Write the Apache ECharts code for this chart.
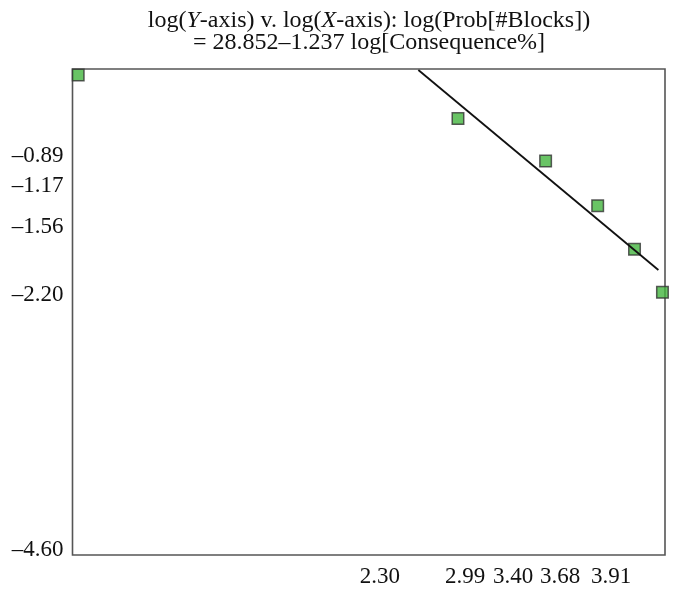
<!DOCTYPE html>
<html>
<head>
<meta charset="utf-8">
<script src="https://cdn.jsdelivr.net/npm/echarts@6/dist/echarts.min.js"></script>
<style>html,body{margin:0;padding:0;background:#fff}#c{width:677px;height:596px}</style>
</head>
<body>
<div id="c"></div>
<script>
// Data points: log(Consequence%) vs log(Prob)
var pointX = [-0.69, 2.30, 2.99, 3.40, 3.69, 3.91];
var pointY = [-0.13, -0.54, -0.94, -1.36, -1.77, -2.175];
// fitted line endpoints (as drawn in reference)
var fitX = [1.988, 3.878];
var fitY = [-0.082, -1.965];
// tick labels
var xTickText = ['2.30', '2.99', '3.40', '3.68', '3.91'];
var xTickAt = [1.686, 2.356, 2.734, 3.104, 3.505];
var yTickVals = [-0.89, -1.17, -1.56, -2.20, -4.60];

var chart = echarts.init(document.getElementById('c'), null, {renderer: 'canvas'});
var font = 'Liberation Serif';
var scatterData = pointX.map(function (x, i) { return [x, pointY[i]]; });
var lineData = fitX.map(function (x, i) { return [x, fitY[i]]; });

chart.setOption({
  animation: false,
  backgroundColor: '#fff',
  title: {
    text: 'log({i|Y}-axis) v. log({i|X}-axis): log(Prob[#Blocks])\n= 28.852–1.237 log[Consequence%]',
    left: 364,
    textAlign: 'center',
    top: 5,
    textStyle: {
      fontFamily: font, fontSize: 24, fontWeight: 'normal', color: '#111', lineHeight: 22,
      rich: { i: { fontFamily: font, fontSize: 24, fontStyle: 'italic', color: '#111', lineHeight: 22 } }
    }
  },
  grid: {
    left: 72.5, right: 12, top: 69, bottom: 41,
    show: true, borderColor: '#555', borderWidth: 1.6, backgroundColor: 'transparent'
  },
  xAxis: {
    type: 'value', min: -0.735, max: 3.93,
    axisLine: {show: false}, axisTick: {show: false}, splitLine: {show: false},
    axisLabel: {
      customValues: xTickAt,
      formatter: function (v) {
        for (var i = 0; i < xTickAt.length; i++) if (Math.abs(v - xTickAt[i]) < 1e-6) return xTickText[i];
        return '';
      },
      fontFamily: font, fontSize: 23, color: '#111', margin: 10
    }
  },
  yAxis: {
    type: 'value', min: -4.647, max: -0.073,
    axisLine: {show: false}, axisTick: {show: false}, splitLine: {show: false},
    axisLabel: {
      customValues: yTickVals,
      formatter: function (v) { return (v < 0 ? '–' : '') + Math.abs(v).toFixed(2); },
      fontFamily: font, fontSize: 23, color: '#111', margin: 9
    }
  },
  series: [
    {
      type: 'scatter', data: scatterData, symbol: 'rect', symbolSize: 11.5,
      itemStyle: {color: '#44b53f', borderColor: '#333', borderWidth: 1.5},
      z: 2
    },
    {
      type: 'line', data: lineData, showSymbol: false, symbol: 'none',
      lineStyle: {color: '#111', width: 1.8}, z: 3
    }
  ]
});
</script>
</body>
</html>
